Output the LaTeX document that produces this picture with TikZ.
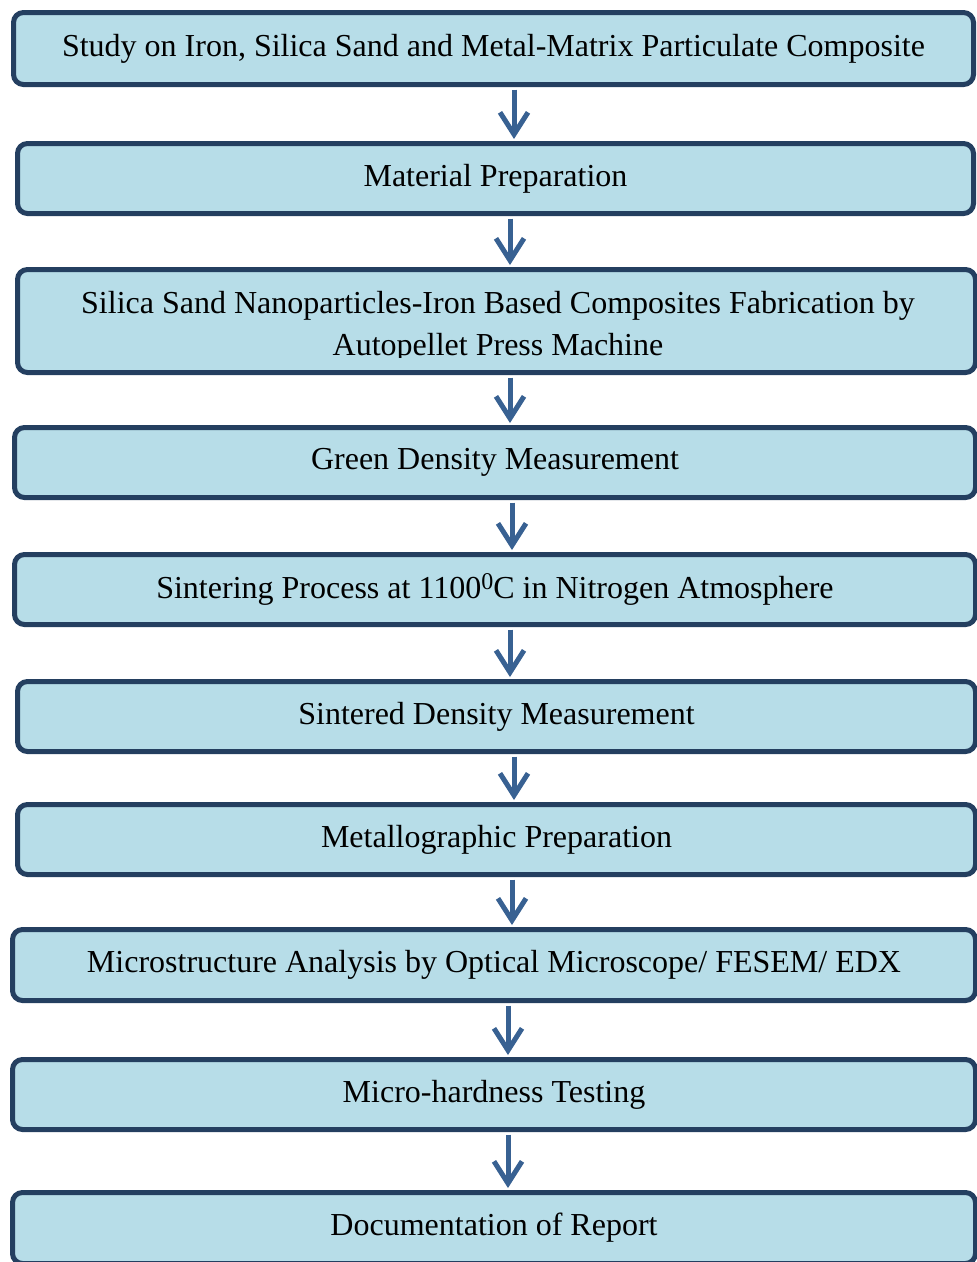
\documentclass[tikz,border=0pt]{standalone}
\usepackage{fontspec}
\setmainfont{Liberation Serif}
\usetikzlibrary{arrows.meta}
\definecolor{boxfill}{HTML}{B7DDE8}
\definecolor{boxline}{HTML}{243F60}
\definecolor{arrowblue}{HTML}{386192}
\begin{document}
\begin{tikzpicture}[x=1pt,y=-1pt,
  stepbox/.style={draw=boxline, fill=boxfill, line width=5pt, rounded corners=10pt,
    inner sep=0pt, font=\fontsize{32}{42}\selectfont, align=center, text=black},
  flow/.style={draw=arrowblue, line width=5pt,
    -{Straight Barb[length=22pt,width=28pt]}, shorten <=2.5pt, shorten >=2pt}]
\useasboundingbox (0,0) rectangle (977,1262);
\clip (0,0) rectangle (977,1262);
\node[stepbox, minimum width=960pt, minimum height=72pt] (b1) at (493.5,48.5)
  {Study on Iron, Silica Sand and Metal-Matrix Particulate Composite};
\node[stepbox, minimum width=956pt, minimum height=70pt] (b2) at (495.5,178.5)
  {Material Preparation};
\node[stepbox, minimum width=958pt, minimum height=103pt] (b3) at (496.5,321) {};
\begin{scope}
  \clip (0,269.5) rectangle (977,357);
  \node[font=\fontsize{32}{42}\selectfont, align=center, inner sep=0pt] (t3) at (498,327)
    {Silica Sand Nanoparticles-Iron Based Composites Fabrication by\\Autopellet Press Machine};
\end{scope}
\node[stepbox, minimum width=961pt, minimum height=70pt] (b4) at (495,462.5)
  {Green Density Measurement};
\node[stepbox, minimum width=961pt, minimum height=70pt] (b5) at (495,589.5)
  {Sintering Process at 1100\raisebox{0.55ex}{\fontsize{24}{24}\selectfont 0}C in Nitrogen Atmosphere};
\node[stepbox, minimum width=958pt, minimum height=70pt] (b6) at (496.5,716.5)
  {Sintered Density Measurement};
\node[stepbox, minimum width=958pt, minimum height=70pt] (b7) at (496.5,839.5)
  {Metallographic Preparation};
\node[stepbox, minimum width=963pt, minimum height=71pt] (b8) at (494,965)
  {Microstructure Analysis by Optical Microscope/ FESEM/ EDX};
\node[stepbox, minimum width=963pt, minimum height=70pt] (b9) at (494,1094.5)
  {Micro-hardness Testing};
\node[stepbox, minimum width=963pt, minimum height=71pt] (b10) at (494,1228)
  {Documentation of Report};
\draw[flow] (514,0 |- b1.south) -- (514,0 |- b2.north);
\draw[flow] (510,0 |- b2.south) -- (510,0 |- b3.north);
\draw[flow] (510,0 |- b3.south) -- (510,0 |- b4.north);
\draw[flow] (512,0 |- b4.south) -- (512,0 |- b5.north);
\draw[flow] (510,0 |- b5.south) -- (510,0 |- b6.north);
\draw[flow] (514,0 |- b6.south) -- (514,0 |- b7.north);
\draw[flow] (512,0 |- b7.south) -- (512,0 |- b8.north);
\draw[flow] (508,0 |- b8.south) -- (508,0 |- b9.north);
\draw[flow] (508,0 |- b9.south) -- (508,0 |- b10.north);
\end{tikzpicture}
\end{document}
